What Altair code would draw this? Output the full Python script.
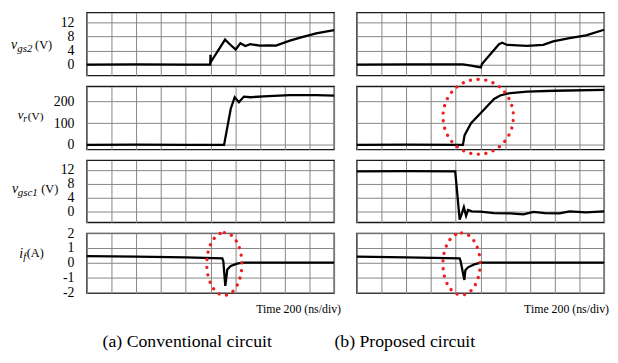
import altair as alt
import pandas as pd

FONT = "Liberation Serif, Times New Roman, Times, serif"

# ---- axes (time in ns, 200 ns/div, 10 divisions) ----
time_ticks = [0, 200, 400, 600, 800, 1000, 1200, 1400, 1600, 1800, 2000]
vgs_ticks = [0, 4, 8, 12]
vr_ticks = [0, 100, 200]
if_ticks = [-2, -1, 0, 1, 2]
vgs_domain = [-3.1, 14.8]
vr_domain = [-21, 270]
if_domain = [-2.05, 2.0]

# ---- (a) Conventional circuit ----
a_vgs2_t = [0, 400, 800, 998, 1000, 1004, 1118, 1150, 1204, 1242, 1282, 1322, 1400, 1480, 1530, 1642, 1748, 1854, 2000]
a_vgs2_v = [0, 0.05, 0, 0, 2.8, 0.8, 7.1, 6.0, 4.3, 6.1, 5.3, 5.8, 5.4, 5.5, 5.4, 6.8, 7.9, 8.9, 9.8]

a_vr_t = [0, 400, 800, 1110, 1164, 1196, 1230, 1270, 1322, 1428, 1642, 1854, 2000]
a_vr_v = [0, 1, 0, 0, 167, 220, 197, 223, 220, 224, 230, 230, 228]

a_vgsc1_t = []
a_vgsc1_v = []

a_if_t = [0, 400, 800, 1096, 1104, 1120, 1128, 1136, 1164, 1216, 1256, 2000]
a_if_v = [0.45, 0.42, 0.38, 0.3, 0.1, -1.55, -1.0, -0.45, -0.2, -0.05, 0.02, 0.02]

# ---- (b) Proposed circuit ----
b_vgs2_t = [0, 400, 858, 924, 1004, 1012, 1150, 1176, 1216, 1376, 1508, 1588, 1720, 1854, 2000]
b_vgs2_v = [0, 0.05, 0.05, -0.3, -0.8, 0.2, 5.8, 6.2, 5.6, 5.3, 5.6, 6.6, 7.5, 8.3, 9.9]

b_vr_t = [0, 400, 858, 872, 924, 1020, 1110, 1160, 1216, 1376, 1600, 2000]
b_vr_v = [0, 1, 0, 45, 100, 158, 212, 228, 237, 246, 250, 254]

b_vgsc1_t = [0, 400, 796, 832, 850, 866, 884, 900, 930, 1000, 1110, 1240, 1348, 1430, 1520, 1640, 1720, 1854, 2000]
b_vgsc1_v = [11.6, 11.7, 11.6, -2.3, -0.5, 1.3, -1.2, 0.5, 0.1, 0.0, -0.4, -0.5, -0.8, -0.1, -0.4, -0.5, 0.1, -0.2, 0.1]

b_if_t = [0, 400, 832, 840, 870, 878, 900, 950, 1004, 2000]
b_if_v = [0.42, 0.38, 0.3, 0.1, -1.15, -0.5, -0.3, -0.1, 0.02, 0.02]

# ---- dotted ellipse annotations: centre (ns, value) ----
ell_a_if = (1112, -0.07)
ell_b_vr = (982, 130)
ell_b_if = (847, -0.07)

W = 251
HEIGHTS = [64, 64, 63, 61]


def ellipse_path(ratio):
    k = 0.5523
    a = ratio
    return (f"M 0,-1 C {k*a:.4f},-1 {a:.4f},{-k:.4f} {a:.4f},0 "
            f"C {a:.4f},{k:.4f} {k*a:.4f},1 0,1 "
            f"C {-k*a:.4f},1 {-a:.4f},{k:.4f} {-a:.4f},0 "
            f"C {-a:.4f},{-k:.4f} {-k*a:.4f},-1 0,-1 Z")


def x_enc():
    return alt.X("t:Q", scale=alt.Scale(domain=[0, 2000], nice=False, zero=False),
                 axis=alt.Axis(values=time_ticks, labels=False, ticks=False, domain=False,
                               title=None, grid=True))


def y_enc(domain, ticks, show_labels):
    return alt.Y("v:Q", scale=alt.Scale(domain=domain, nice=False, zero=False),
                 axis=alt.Axis(values=ticks, labels=show_labels, ticks=False, domain=False,
                               title=None, grid=True, labelFontSize=14, labelFont=FONT,
                               labelColor="black", labelPadding=13, labelOverlap=False,
                               labelExpr="'' + datum.value"))


def trace(t, v, domain, ticks, show_labels):
    df = pd.DataFrame({"t": pd.Series(t, dtype=float), "v": pd.Series(v, dtype=float)})
    return alt.Chart(df).mark_line(color="black", strokeWidth=2.3).encode(
        x=x_enc(), y=y_enc(domain, ticks, show_labels))


def txt(text, x, y, size, italic=False, align="left"):
    return alt.Chart(alt.InlineData(values=[{"k": 0}])).mark_text(
        text=text, font=FONT, fontSize=size, fontStyle="italic" if italic else "normal",
        align=align, baseline="alphabetic", color="black"
    ).encode(x=alt.value(x), y=alt.value(y))


def ellipse(center, ratio, diameter, domain, ticks, show_labels):
    df = pd.DataFrame({"t": [center[0]], "v": [center[1]]})
    return alt.Chart(df).mark_point(
        shape=ellipse_path(ratio), size=diameter * diameter, filled=False,
        stroke="#ec2020", strokeWidth=3.3, strokeDash=[0.1, 7.6], strokeCap="round",
        opacity=1
    ).encode(x=x_enc(), y=y_enc(domain, ticks, show_labels))


# left column
a1 = alt.layer(
    trace(a_vgs2_t, a_vgs2_v, vgs_domain, vgs_ticks, True),
    txt("v", -77, 37, 14, True), txt("gs2", -70.5, 40.5, 11, True), txt("(V)", -52.5, 37, 12.5),
    alt.Chart(alt.InlineData(values=[{"k": 0}])).mark_rule(opacity=0, strokeWidth=1).encode(
        x=alt.value(-78.5), x2=alt.value(-78.5), y=alt.value(-0.5), y2=alt.value(0)),
).properties(width=W, height=HEIGHTS[0])

a2 = alt.layer(
    trace(a_vr_t, a_vr_v, vr_domain, vr_ticks, True),
    txt("v", -70, 33.5, 13, True), txt("r", -64.5, 36, 10, True), txt("(V)", -60, 34, 11.5),
).properties(width=W, height=HEIGHTS[1])

a3 = alt.layer(
    trace(a_vgsc1_t, a_vgsc1_v, vgs_domain, vgs_ticks, True),
    txt("v", -76, 33.3, 14, True), txt("gsc1", -70, 36, 11, True), txt("(V)", -46.3, 33.3, 12.5),
).properties(width=W, height=HEIGHTS[2])

a4 = alt.layer(
    trace(a_if_t, a_if_v, if_domain, if_ticks, True),
    ellipse(ell_a_if, 0.56, 63.6, if_domain, if_ticks, True),
    txt("i", -68.7, 25, 14, True), txt("f", -64.5, 27.5, 10.5, True), txt("(A)", -61, 24.5, 12.5),
    txt("Time 200 (ns/div)", 258, 81, 12, align="right"),
    txt("(a) Conventional circuit", 16, 115, 18),
).properties(width=W, height=HEIGHTS[3])

# right column
b1 = trace(b_vgs2_t, b_vgs2_v, vgs_domain, vgs_ticks, False).properties(width=W, height=HEIGHTS[0])

b2 = alt.layer(
    trace(b_vr_t, b_vr_v, vr_domain, vr_ticks, False),
    ellipse(ell_b_vr, 0.94, 76, vr_domain, vr_ticks, False),
).properties(width=W, height=HEIGHTS[1])

b3 = trace(b_vgsc1_t, b_vgsc1_v, vgs_domain, vgs_ticks, False).properties(width=W, height=HEIGHTS[2])

b4 = alt.layer(
    trace(b_if_t, b_if_v, if_domain, if_ticks, False),
    ellipse(ell_b_if, 0.6, 63, if_domain, if_ticks, False),
    txt("Time 200 (ns/div)", 256, 81, 12, align="right"),
    txt("(b) Proposed circuit", -22.7, 115, 18),
).properties(width=W, height=HEIGHTS[3])

chart = alt.concat(
    a1, b1, a2, b2, a3, b3, a4, b4,
    columns=2, spacing={"row": 11, "column": 23}, align="each", bounds="flush",
).properties(
    padding=0, background="white"
).configure_view(
    stroke="#1a1a1a", strokeWidth=1.4
).configure_axis(
    gridColor="#858585", gridWidth=1, gridOpacity=1
)

chart.save("out.html", embed_options={"renderer": "svg", "actions": False})
